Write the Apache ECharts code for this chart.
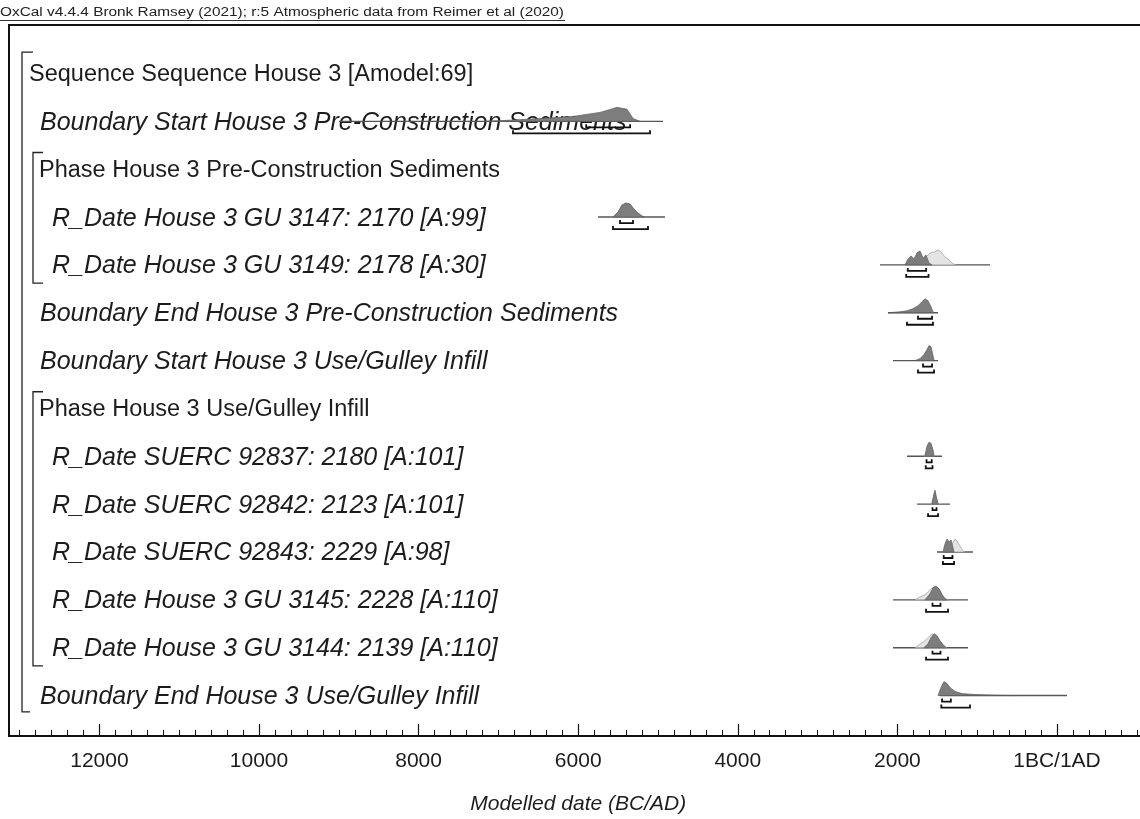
<!DOCTYPE html>
<html><head><meta charset="utf-8">
<script src="https://cdn.jsdelivr.net/npm/echarts@6/dist/echarts.min.js"></script>
<style>html,body{margin:0;padding:0;background:#fff}#c{width:1140px;height:819px}</style>
</head><body><div id="c"></div>
<script>
// ---------- data ----------
const headerText = 'OxCal v4.4.4 Bronk Ramsey (2021); r:5 Atmospheric data from Reimer et al (2020)';
const axisTitle = 'Modelled date (BC/AD)';
const tickValues = [-12000, -10000, -8000, -6000, -4000, -2000, 0];

const rowLabels = [
  'Sequence Sequence House 3 [Amodel:69]',
  'Boundary Start House 3 Pre-Construction Sediments',
  'Phase House 3 Pre-Construction Sediments',
  'R_Date House 3 GU 3147: 2170 [A:99]',
  'R_Date House 3 GU 3149: 2178 [A:30]',
  'Boundary End House 3 Pre-Construction Sediments',
  'Boundary Start House 3 Use/Gulley Infill',
  'Phase House 3 Use/Gulley Infill',
  'R_Date SUERC 92837: 2180 [A:101]',
  'R_Date SUERC 92842: 2123 [A:101]',
  'R_Date SUERC 92843: 2229 [A:98]',
  'R_Date House 3 GU 3145: 2228 [A:110]',
  'R_Date House 3 GU 3144: 2139 [A:110]',
  'Boundary End House 3 Use/Gulley Infill'
];
const rowKinds = ['sequence','boundary','phase','rdate','rdate','boundary','boundary','phase','rdate','rdate','rdate','rdate','rdate','boundary'];

// year (negative = BC) extent of the thin range line under each distribution
const rangeLine = [null, [-9000, -4937], null, [-5752, -4912], [-2218, -840], [-2118, -1491], [-2055, -1491], null,
  [-1880, -1441], [-1754, -1341], [-1504, -1053], [-2055, -1115], [-2055, -1115], [-1466, 125]];

// unmodelled likelihoods [year, relative density]
const likelihood = [null, null, null,
  [[-5560,0],[-5500,0.35],[-5450,0.85],[-5400,1],[-5350,0.9],[-5300,0.55],[-5250,0.3],[-5200,0.07],[-5160,0]],
  [[-1720,0],[-1654,0.5],[-1591,0.85],[-1529,0.93],[-1491,1.07],[-1454,0.93],[-1404,0.57],[-1353,0.36],[-1303,0.07],[-1266,0]],
  null, null, null,
  [[-1660,0],[-1630,0.6],[-1605,0.9],[-1580,0.85],[-1555,0.4],[-1540,0]],
  [[-1575,0],[-1550,0.5],[-1530,0.9],[-1510,0.45],[-1490,0]],
  [[-1341,0],[-1303,0.71],[-1278,0.93],[-1253,0.79],[-1216,0.43],[-1178,0.07],[-1153,0]],
  [[-1779,0],[-1717,0.21],[-1654,0.36],[-1604,0.64],[-1566,0.86],[-1529,0.93],[-1479,0.79],[-1429,0.29],[-1391,0.07],[-1366,0]],
  [[-1779,0],[-1729,0.21],[-1667,0.43],[-1617,0.71],[-1566,1],[-1516,0.79],[-1466,0.43],[-1416,0.14],[-1378,0]],
  null
];

// modelled posteriors [year, relative density]
const posterior = [null,
  [[-7143,0],[-6800,0.1],[-6479,0.2],[-6065,0.35],[-5727,0.64],[-5600,0.85],[-5514,1],[-5388,0.86],[-5313,0.2],[-5226,0]],
  null,
  [[-5564,0],[-5501,0.36],[-5451,0.86],[-5401,1],[-5351,0.93],[-5301,0.57],[-5251,0.29],[-5201,0.07],[-5163,0]],
  [[-1905,0],[-1867,0.43],[-1830,0.64],[-1792,0.43],[-1754,0.86],[-1717,1],[-1679,0.5],[-1642,0.71],[-1604,0.14],[-1566,0]],
  [[-2118,0],[-1967,0.07],[-1880,0.14],[-1805,0.29],[-1742,0.5],[-1692,0.79],[-1654,1],[-1617,0.86],[-1579,0.43],[-1554,0.07],[-1541,0]],
  [[-1779,0],[-1717,0.14],[-1667,0.43],[-1629,0.79],[-1604,1.07],[-1579,1],[-1554,0.36],[-1541,0]],
  null,
  [[-1654,0],[-1629,0.71],[-1604,1],[-1579,0.93],[-1554,0.43],[-1541,0]],
  [[-1566,0],[-1548,0.57],[-1529,1],[-1510,0.43],[-1491,0]],
  [[-1429,0],[-1404,0.57],[-1378,0.93],[-1353,0.71],[-1328,0.86],[-1303,0.29],[-1291,0]],
  [[-1654,0],[-1591,0.43],[-1554,0.86],[-1516,1],[-1479,0.79],[-1441,0.36],[-1404,0.07],[-1378,0]],
  [[-1667,0],[-1617,0.29],[-1579,0.71],[-1541,1],[-1504,0.86],[-1466,0.5],[-1429,0.21],[-1391,0]],
  [[-1491,0],[-1454,0.57],[-1416,1],[-1378,0.86],[-1341,0.57],[-1278,0.29],[-1190,0.14],[-1028,0.07],[-840,0.035],[-714,0.015],[-500,0]]
];

// highest posterior density ranges (68.3% upper bracket, 95.4% lower bracket)
const range68 = [null, [[-5900,-5350]], null, [[-5476,-5313]], [[-1870,-1640]], [[-1742,-1566]], [[-1679,-1566]], null,
  [[-1635,-1570]], [[-1560,-1510]], [[-1420,-1310]], [[-1560,-1460]], [[-1560,-1460]], [[-1440,-1330]]];
const range95 = [null, [[-6817,-5100]], null, [[-5564,-5125]], [[-1890,-1610]], [[-1880,-1554]], [[-1742,-1541]], null,
  [[-1645,-1560]], [[-1616,-1491]], [[-1430,-1290]], [[-1641,-1366]], [[-1641,-1366]], [[-1450,-1090]]];

const sequenceSpan = [0, 13];
const phaseSpans = [[2, 4], [7, 12]];

// ---------- layout / style ----------
const PX_PER_YEAR = 0.0798;
const ZERO_X = 1057;
const FRAME_LEFT = 9, FRAME_TOP = 25, AXIS_Y = 736;
const X_MIN = -14000, X_MAX = 2000;
const gridLeft = ZERO_X + X_MIN * PX_PER_YEAR;
const gridWidth = (X_MAX - X_MIN) * PX_PER_YEAR;
const ROW0_Y = 75, ROW_STEP = 47.85;
const yMin = -(ROW0_Y - FRAME_TOP) / ROW_STEP;
const yMax = yMin + (AXIS_Y - FRAME_TOP) / ROW_STEP;
const FRAME_YEAR = (FRAME_LEFT - ZERO_X) / PX_PER_YEAR;
const H = 14;
const FONT = '"Liberation Sans", Arial, sans-serif';

const chart = echarts.init(document.getElementById('c'), null, {renderer: 'canvas'});

function renderDist(params, api) {
  const r = api.value(1);
  const kids = [];
  const base = api.coord([0, r])[1] - 1.5;
  const px = y => api.coord([y, r])[0];
  if (rangeLine[r]) {
    kids.push({type: 'line', shape: {x1: px(rangeLine[r][0]), y1: base, x2: px(rangeLine[r][1]), y2: base},
      style: {stroke: '#555', lineWidth: 1.4}});
  }
  const poly = (pts, fill, stroke) => {
    const p = pts.map(d => [px(d[0]), base - d[1] * H]);
    kids.push({type: 'polygon', shape: {points: p}, style: {fill: fill, stroke: stroke, lineWidth: 0.7}});
  };
  if (likelihood[r]) poly(likelihood[r], '#e4e4e4', '#9a9a9a');
  if (posterior[r]) poly(posterior[r], '#7d7d7d', '#5a5a5a');
  const bracket = (ranges, dy) => {
    (ranges || []).forEach(rg => {
      const a = px(rg[0]), b = px(rg[1]), y = base + dy;
      kids.push({type: 'polyline', shape: {points: [[a, y - 3], [a, y], [b, y], [b, y - 3]]},
        style: {stroke: '#111', lineWidth: 1.8, fill: null}});
    });
  };
  bracket(range68[r], 6);
  bracket(range95[r], 12);
  return {type: 'group', children: kids};
}

function renderLabel(params, api) {
  const r = api.value(1);
  const fx = api.coord([FRAME_YEAR, r])[0];
  const y = api.coord([0, r])[1];
  const kind = rowKinds[r];
  const indent = kind === 'sequence' ? 20 : kind === 'phase' ? 30 : kind === 'boundary' ? 31 : 43;
  const italic = (kind === 'boundary' || kind === 'rdate');
  return {type: 'text', x: fx + indent, y: y,
    style: {text: rowLabels[r], font: (italic ? 'italic 25px ' : '23.5px ') + FONT, fill: '#1c1c1c',
      textAlign: 'left', align: 'left', textVerticalAlign: 'middle', verticalAlign: 'middle'}};
}

function renderStructure(params, api) {
  const idx = params.dataIndex;
  const kids = [];
  const fx = api.coord([FRAME_YEAR, 0])[0];
  const yOf = v => api.coord([0, v])[1];
  if (idx === 0) {
    const x = fx + 13, t = yOf(sequenceSpan[0] - 0.48), b = yOf(sequenceSpan[1] + 0.31);
    kids.push({type: 'polyline', shape: {points: [[x + 11, t], [x, t], [x, b], [x + 8, b]]}, style: {stroke: '#222', lineWidth: 1.3, fill: null}});
  } else {
    const sp = phaseSpans[idx - 1];
    const x = fx + 24, t = yOf(sp[0] - 0.38), b = yOf(sp[1] + 0.35);
    kids.push({type: 'polyline', shape: {points: [[x + 10, t], [x, t], [x, b], [x + 10, b]]}, style: {stroke: '#222', lineWidth: 1.3, fill: null}});
  }
  return {type: 'group', children: kids};
}

const rowData = rowLabels.map((_, i) => [0, i]);
const structData = [[0, 0]].concat(phaseSpans.map(s => [0, s[0]]));

chart.setOption({
  animation: false,
  backgroundColor: '#fff',
  grid: [
    {left: gridLeft, width: gridWidth, top: FRAME_TOP, height: AXIS_Y - FRAME_TOP,
      containLabel: false, outerBoundsMode: 'none'},
    {left: FRAME_LEFT, top: FRAME_TOP, width: 1400, height: AXIS_Y - FRAME_TOP, show: true,
      borderColor: '#111', borderWidth: 2, backgroundColor: 'transparent',
      containLabel: false, outerBoundsMode: 'none'}
  ],
  xAxis: [
    {type: 'value', gridIndex: 0, min: X_MIN, max: X_MAX, interval: 2000, position: 'bottom',
      axisLine: {show: false, onZero: false}, splitLine: {show: false},
      axisTick: {show: true, inside: true, length: 12, lineStyle: {color: '#111', width: 1.2}},
      minorTick: {show: true, splitNumber: 10, length: 6, lineStyle: {color: '#111', width: 1}},
      axisLabel: {margin: 15, fontSize: 21, color: '#1c1c1c', fontFamily: FONT,
        formatter: v => v === 0 ? '1BC/1AD' : (v < 0 ? String(-v) : v + 'AD')},
      name: axisTitle, nameLocation: 'middle', nameGap: 58,
      nameTextStyle: {fontSize: 21, fontStyle: 'italic', color: '#1c1c1c', fontFamily: FONT}},
    {type: 'value', gridIndex: 1, show: false, min: 0, max: 1}
  ],
  yAxis: [
    {type: 'value', gridIndex: 0, inverse: true, min: yMin, max: yMax, show: false},
    {type: 'value', gridIndex: 1, show: false, min: 0, max: 1}
  ],
  graphic: [
    {type: 'text', left: 0, top: 6, style: {text: headerText, font: '12.5px ' + FONT, fill: '#222'}, scaleX: 1.23},
    {type: 'line', shape: {x1: 0, y1: 20.5, x2: 565, y2: 20.5}, style: {stroke: '#333', lineWidth: 1}},
    {type: 'rect', shape: {x: 0, y: 700, width: 7.5, height: 45}, style: {fill: '#fff'}, z: 100}
  ],
  series: [
    {type: 'custom', xAxisIndex: 0, yAxisIndex: 0, data: structData, renderItem: renderStructure, silent: true},
    {type: 'custom', xAxisIndex: 0, yAxisIndex: 0, data: rowData, renderItem: renderLabel, silent: true},
    {type: 'custom', xAxisIndex: 0, yAxisIndex: 0, data: rowData, renderItem: renderDist, silent: true, z: 3}
  ]
});
</script></body></html>
